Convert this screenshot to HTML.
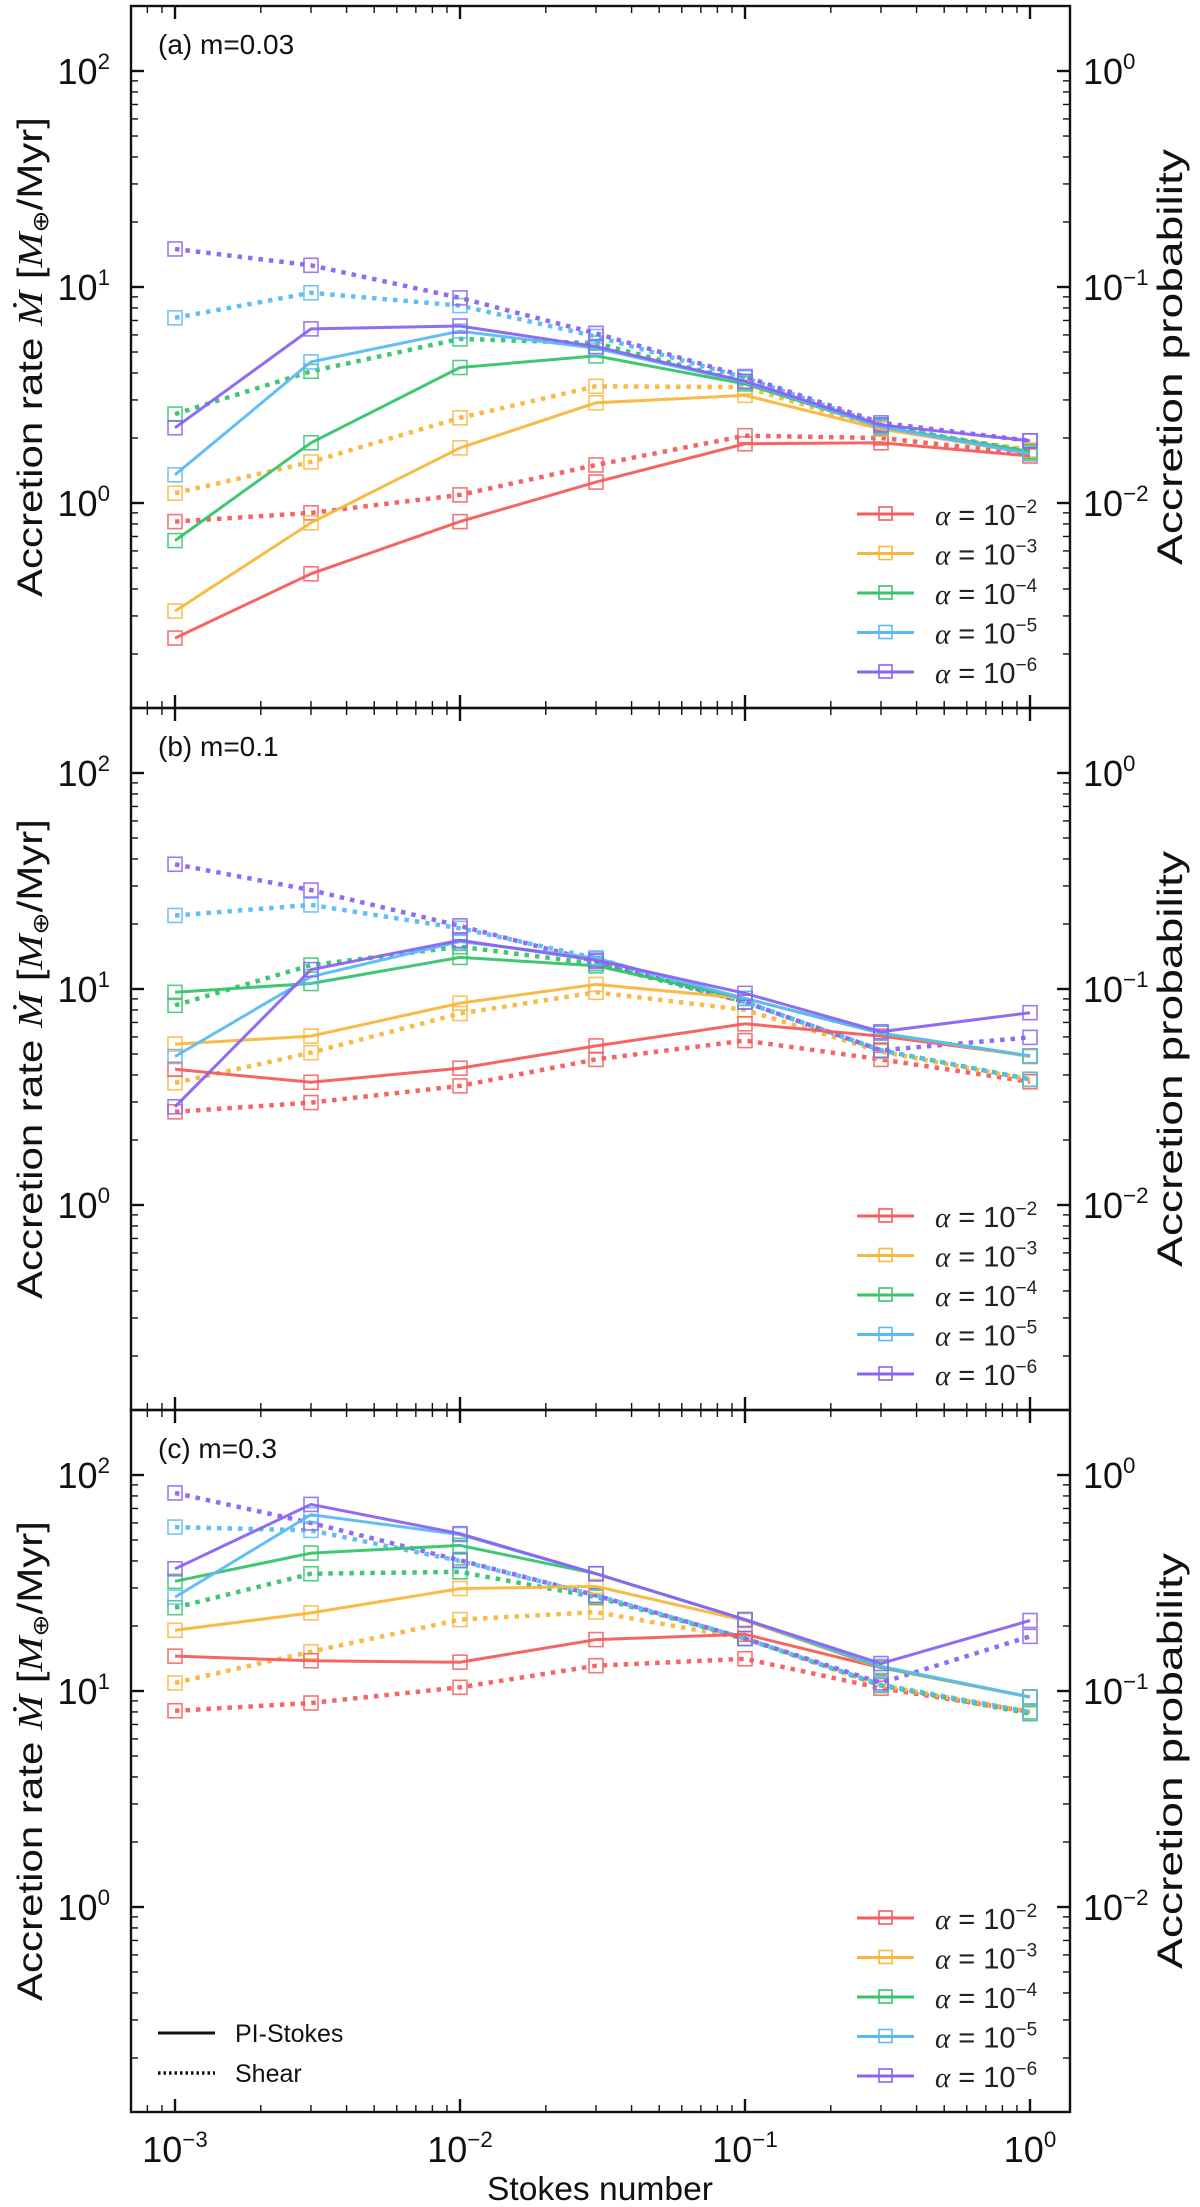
<!DOCTYPE html>
<html><head><meta charset="utf-8">
<style>
html,body{margin:0;padding:0;background:#fff;}
svg{display:block;font-family:"Liberation Sans","DejaVu Sans",sans-serif;}
</style></head>
<body>
<svg id="fig" width="1200" height="2207" viewBox="0 0 1200 2207" xmlns="http://www.w3.org/2000/svg"></svg>
<script>
// ---- data ----
const stokes = [0.001, 0.003, 0.01, 0.03, 0.1, 0.3, 1];
const alphaLabels = ["-2", "-3", "-4", "-5", "-6"];
const colors = ["#f65c5c", "#f8b73d", "#36c46c", "#5bbaf5", "#8a63f2"];
const panelLabels = ["(a) m=0.03", "(b) m=0.1", "(c) m=0.3"];
const yTickExps = [0, 1, 2];
const xTickExps = [-3, -2, -1, 0];
const rightTickExps = [-2, -1, 0];

// panel a
const aSolid = [
  [0.237, 0.47, 0.82, 1.25, 1.88, 1.9, 1.65],
  [0.316, 0.81, 1.8, 2.91, 3.15, 2.2, 1.7],
  [0.67, 1.9, 4.24, 4.8, 3.56, 2.25, 1.73],
  [1.35, 4.5, 6.25, 5.2, 3.63, 2.25, 1.69],
  [2.23, 6.4, 6.6, 5.3, 3.66, 2.3, 1.94]
];
const aDotted = [
  [0.82, 0.90, 1.09, 1.50, 2.05, 2.0, 1.69],
  [1.11, 1.55, 2.48, 3.47, 3.44, 2.23, 1.76],
  [2.58, 4.07, 5.75, 5.5, 3.63, 2.28, 1.73],
  [7.2, 9.4, 8.2, 5.9, 3.8, 2.3, 1.7],
  [15, 12.6, 8.9, 6.1, 3.85, 2.35, 1.94]
];
// panel b
const bSolid = [
  [4.25, 3.7, 4.3, 5.45, 6.9, 6.05, 4.9],
  [5.56, 6.05, 8.6, 10.5, 9.05, 6.24, 4.86],
  [9.65, 10.6, 14, 12.8, 9.05, 6.24, 4.9],
  [4.87, 11.4, 16.6, 13.9, 9.05, 6.24, 4.9],
  [2.85, 12.3, 16.8, 13.6, 9.55, 6.34, 7.77]
];
const bDotted = [
  [2.7, 2.98, 3.56, 4.72, 5.77, 4.72, 3.72],
  [3.68, 5.07, 7.7, 9.65, 8.0, 5.13, 3.8],
  [8.4, 12.9, 15.7, 13.1, 8.7, 5.2, 3.82],
  [21.9, 24.5, 19.1, 13.9, 8.7, 5.2, 3.82],
  [37.8, 28.7, 19.6, 13.4, 8.7, 5.2, 5.97]
];
// panel c
const cSolid = [
  [14.5, 13.8, 13.6, 17.3, 18.3, 12.8, 9.38],
  [19.1, 23, 29.8, 30.5, 21.2, 12.8, 9.38],
  [32.2, 43.5, 47.2, 34.9, 21.4, 12.9, 9.38],
  [27.2, 65.5, 53, 34.9, 21.4, 13, 9.38],
  [36.8, 73.1, 53.5, 34.9, 21.4, 13.4, 21.2]
];
const cDotted = [
  [8.1, 8.8, 10.4, 13.1, 14.1, 10.3, 8.0],
  [10.9, 15.2, 21.4, 23.2, 17.5, 10.6, 8.0],
  [24.3, 34.9, 35.6, 27.2, 17.5, 10.6, 7.85],
  [57.4, 55.4, 40, 27.7, 17.5, 10.7, 8.0],
  [82.6, 60, 40.3, 27.7, 17.5, 10.9, 17.9]
];
const panelSolid = [aSolid, bSolid, cSolid];
const panelDotted = [aDotted, bDotted, cDotted];

// ---- layout ----
const NS = "http://www.w3.org/2000/svg";
const svg = document.getElementById("fig");
const L = 131, R = 1070, PH = 702;
const tops = [6, 708, 1410];
const X0 = 175, XD = 285;
function xs(v){ return X0 + (Math.log10(v) + 3) * XD; }
function ys(top, v){ return top + 65 + (2 - Math.log10(v)) * 216; }
function mk(tag, attrs, parent){
  const e = document.createElementNS(NS, tag);
  for (const k in attrs) e.setAttribute(k, attrs[k]);
  (parent || svg).appendChild(e);
  return e;
}
function powText(parent, x, y, exp, anchor, size){
  const t = mk("text", {x:x, y:y, "font-size":size, "text-anchor":anchor, fill:"#111"}, parent);
  t.textContent = "10";
  const s = mk("tspan", {dy:-size*0.42, "font-size":size*0.62}, t);
  s.textContent = exp;
  return t;
}

tops.forEach((top, p) => {
  const g = mk("g", {});
  
  
  const bot = top + PH;
  const cp = mk("clipPath", {id:"clip"+p}, g);
  mk("rect", {x:L, y:top, width:R-L, height:PH}, cp);
  const tk = mk("g", {stroke:"#111", "stroke-width":1.6}, g);
  
  
  for (let d=-4; d<=0; d++){
    for (let m=1; m<=9; m++){
      const v = m*Math.pow(10,d);
      const x = xs(v);
      if (x < L+1 || x > R-1) continue;
      const len = m===1 ? 13 : 7;
      const sw = m===1 ? 2.4 : 1.4;
      mk("line", {x1:x, x2:x, y1:bot, y2:bot-len, "stroke-width":sw}, tk);
      mk("line", {x1:x, x2:x, y1:top, y2:top+len, "stroke-width":sw}, tk);
    }
  }
  for (let d=-2; d<=2; d++){
    for (let m=1; m<=9; m++){
      const v = m*Math.pow(10,d);
      const y = ys(top, v);
      if (y < top+1 || y > bot-1) continue;
      const len = m===1 ? 13 : 7;
      const sw = m===1 ? 2.4 : 1.4;
      mk("line", {x1:L, x2:L+len, y1:y, y2:y, "stroke-width":sw}, tk);
      mk("line", {x1:R, x2:R-len, y1:y, y2:y, "stroke-width":sw}, tk);
    }
  }
  yTickExps.forEach(e => {
    const t = powText(g, 110, ys(top, Math.pow(10,e)) + 13, String(e), "end", 36);
    
    
  });
  rightTickExps.forEach(e => {
    const t = powText(g, 1083, ys(top, Math.pow(10,e+2)) + 13, e===0 ? "0" : "\u2212" + (-e), "start", 36);
    
    
  });
  const cy = top + PH/2;
  const yl = mk("text", {x:0, y:0, "font-size":35, "text-anchor":"middle", fill:"#111", textLength:480, lengthAdjust:"spacingAndGlyphs", transform:`translate(42,${cy}) rotate(-90)`}, g);
  
  
  yl.textContent = "Accretion rate ";
  const ym = mk("tspan", {"font-style":"italic", "font-family":"Liberation Serif, serif"}, yl); ym.textContent = "\u1E40";
  const yr = mk("tspan", {}, yl); yr.textContent = " [";
  const ym2 = mk("tspan", {"font-style":"italic", "font-family":"Liberation Serif, serif"}, yl); ym2.textContent = "M";
  const ysub = mk("tspan", {"font-size":22, dy:6}, yl); ysub.textContent = "\u2295";
  const yr2 = mk("tspan", {dy:-6}, yl); yr2.textContent = "/Myr]";
  const rl = mk("text", {x:0, y:0, "font-size":35, "text-anchor":"middle", fill:"#111", textLength:416, lengthAdjust:"spacingAndGlyphs", transform:`translate(1182,${cy}) rotate(-90)`}, g);
  
  
  rl.textContent = "Accretion probability";
  const pl = mk("text", {x:158, y:top+48, "font-size":28, fill:"#111"}, g);
  
  
  pl.textContent = panelLabels[p];
  const sg = mk("g", {"clip-path":`url(#clip${p})`}, g);
  [panelDotted[p], panelSolid[p]].forEach((set, si) => {
    set.forEach((vals, ci) => {
      const pts = vals.map((v,i) => xs(stokes[i]).toFixed(1)+","+ys(top,v).toFixed(1)).join(" ");
      const line = mk("polyline", {points:pts, fill:"none", stroke:colors[ci], "stroke-width": si===0 ? 4.5 : 3, "stroke-dasharray": si===0 ? "4.5,6" : "none", opacity:0.95}, sg);
      
      
      vals.forEach((v,i) => {
        const r = mk("rect", {x:xs(stokes[i])-7, y:ys(top,v)-7, width:14, height:14, fill:"none", stroke:colors[ci], "stroke-width":1.6, opacity:0.85}, sg);
        
        
      });
    });
  });
  const fr = mk("rect", {x:L, y:top, width:R-L, height:PH, fill:"none", stroke:"#111", "stroke-width":2.4}, g);
  
  
  const lg = mk("g", {}, g);
  
  
  alphaLabels.forEach((a, ci) => {
    const ly = top + 508 + ci*39.5;
    const le = mk("g", {}, lg);
    
    
    mk("line", {x1:857, x2:914, y1:ly, y2:ly, stroke:colors[ci], "stroke-width":3}, le);
    mk("rect", {x:879, y:ly-7, width:13, height:13, fill:"none", stroke:colors[ci], "stroke-width":1.6}, le);
    const t = mk("text", {x:935, y:ly+11, "font-size":29, fill:"#222"}, le);
    const al = mk("tspan", {"font-style":"italic", "font-family":"Liberation Serif, serif"}, t); al.textContent = "\u03B1";
    const eq = mk("tspan", {}, t); eq.textContent = " = 10";
    const ex = mk("tspan", {dy:-12, "font-size":19}, t); ex.textContent = "\u2212" + a.slice(1);
  });
});

const bottom = tops[2] + PH;
xTickExps.forEach(e => {
  const t = powText(svg, xs(Math.pow(10,e)), bottom + 50, e===0 ? "0" : "\u2212" + (-e), "middle", 36);
  
  
});
const xt = mk("text", {x:600, y:2200, "font-size":33, "text-anchor":"middle", fill:"#111", textLength:226, lengthAdjust:"spacingAndGlyphs"});


xt.textContent = "Stokes number";

const sl = mk("g", {});


mk("line", {x1:158, x2:215, y1:2033, y2:2033, stroke:"#111", "stroke-width":3}, sl);
const t1 = mk("text", {x:235, y:2042, "font-size":25, fill:"#111"}, sl); t1.textContent = "PI-Stokes";
mk("line", {x1:158, x2:215, y1:2073, y2:2073, stroke:"#111", "stroke-width":3.5, "stroke-dasharray":"2.5,3"}, sl);
const t2 = mk("text", {x:235, y:2082, "font-size":25, fill:"#111"}, sl); t2.textContent = "Shear";
</script>
</body></html>
